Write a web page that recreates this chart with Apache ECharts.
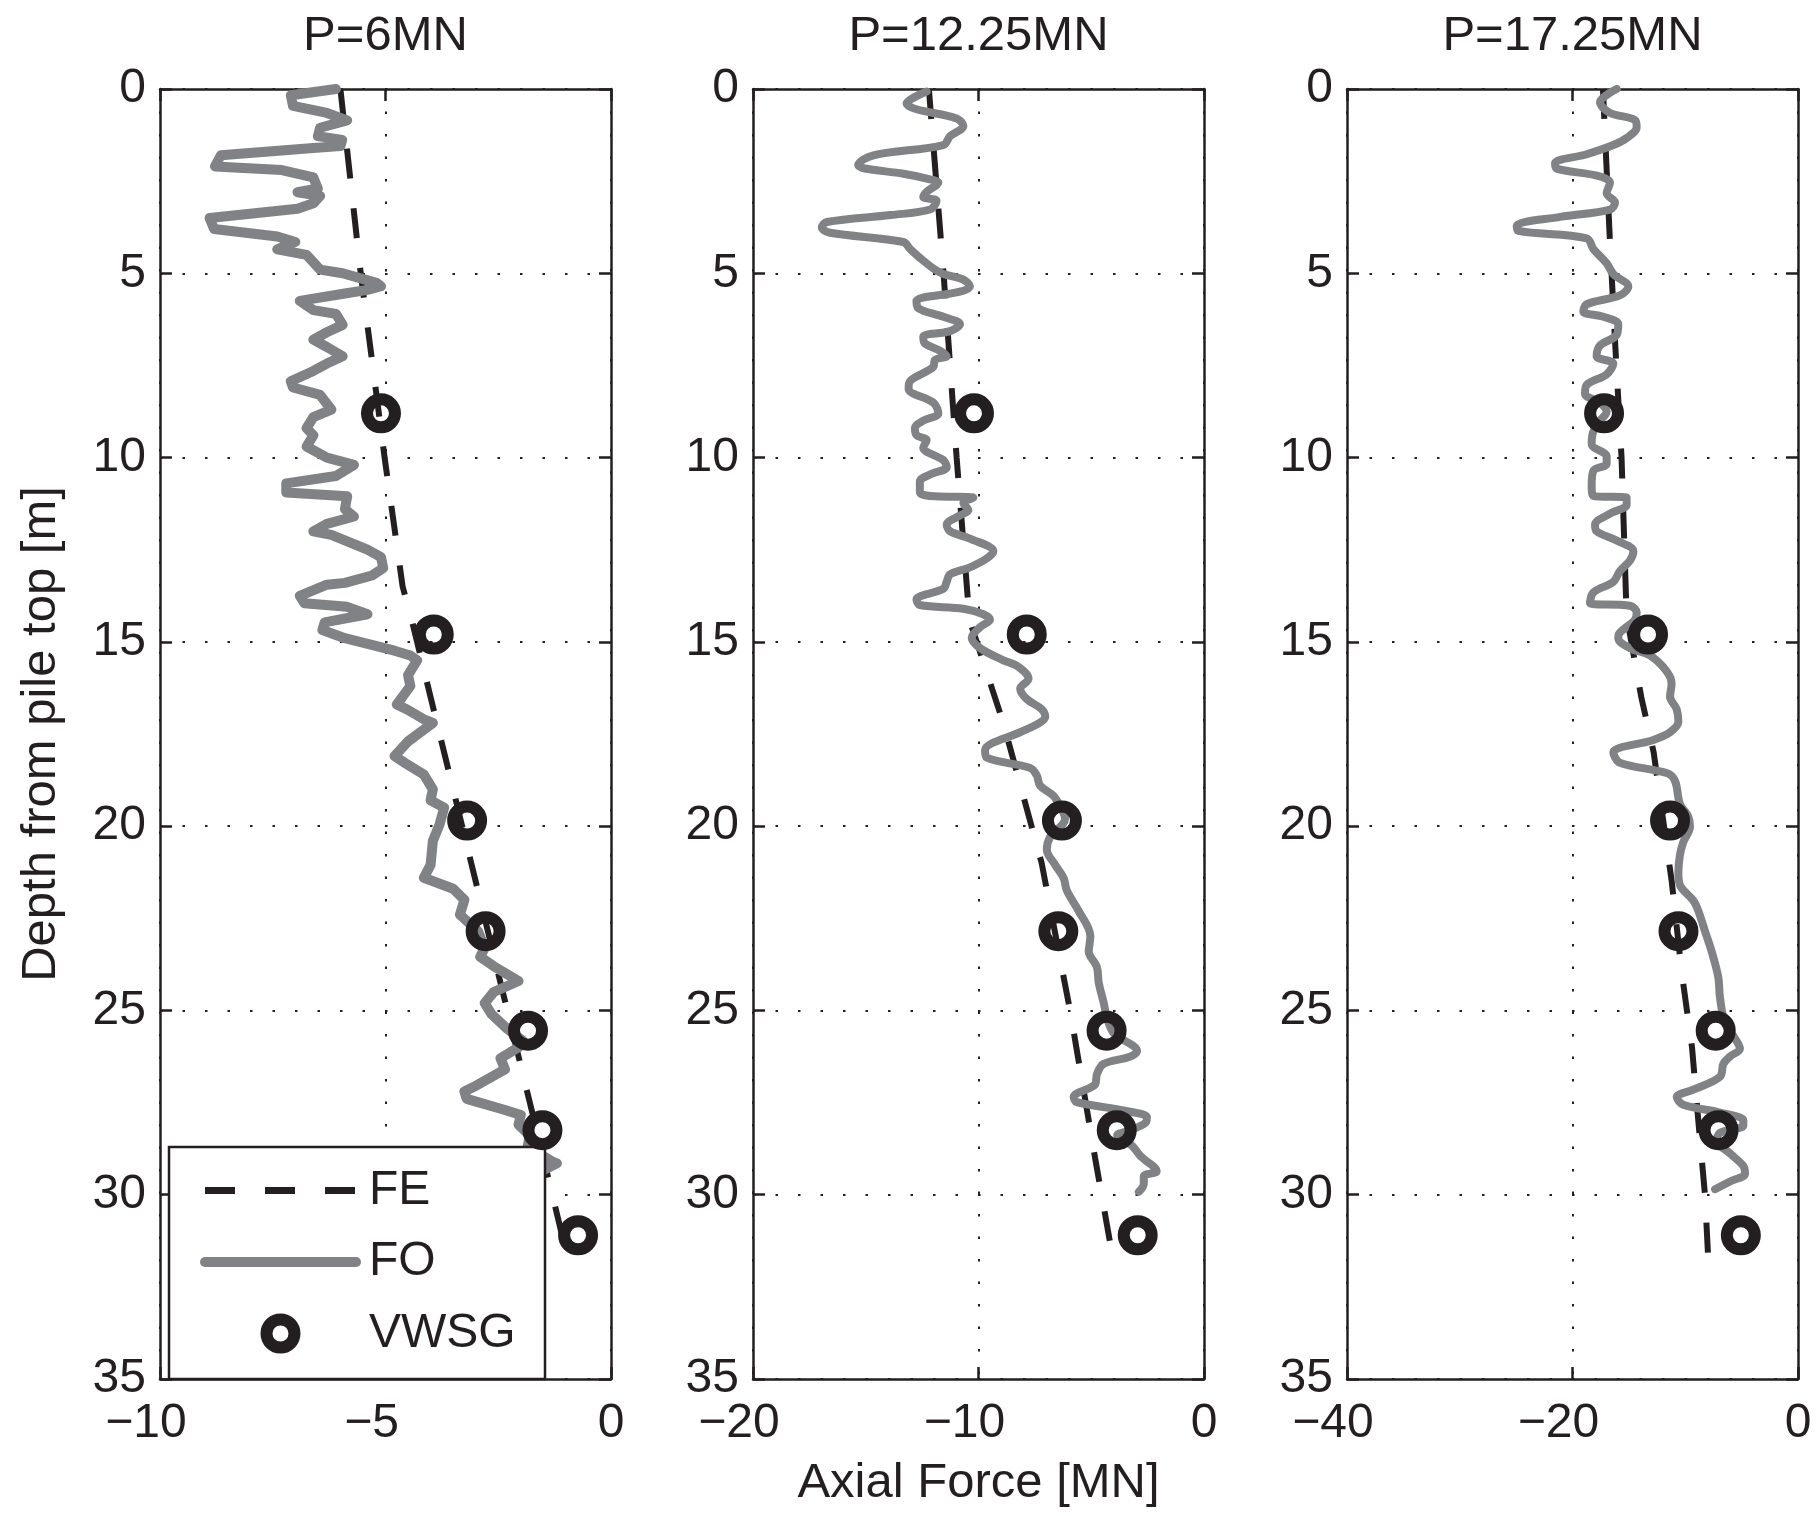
<!DOCTYPE html>
<html><head><meta charset="utf-8">
<script src="https://cdn.jsdelivr.net/npm/echarts@6/dist/echarts.min.js"></script>
<style>html,body{margin:0;padding:0;background:#fff}#c{width:1817px;height:1516px}</style>
</head><body><div id="c"></div>
<script>
// ---------- data ----------
const panelTitles = ['P=6MN', 'P=12.25MN', 'P=17.25MN'];
const xMin = [-10, -20, -40];
const xMax = [0, 0, 0];
const xStep = [5, 10, 20];
const depthMin = 0, depthMax = 35, depthStep = 5;

// VWSG gauges
const vwsgDepth = [8.8, 14.8, 19.85, 22.85, 25.55, 28.25, 31.1];
const vwsgP6 = [-5.1, -3.93, -3.19, -2.78, -1.84, -1.52, -0.73];
const vwsgP12 = [-10.2, -7.86, -6.3, -6.46, -4.32, -3.87, -2.94];
const vwsgP17 = [-17.2, -13.3, -11.35, -10.6, -7.3, -7.05, -5.07];

// FE (finite element)
const feP6Depth = [0, 5, 10, 13.5, 14.5, 20, 25, 30, 31.8];
const feP6Force = [-6.0, -5.55, -5.02, -4.62, -4.4, -3.3, -2.3, -1.3, -0.95];
const feP12Depth = [0, 5, 10, 14.4, 17.2, 21, 25, 29, 31.8];
const feP12Force = [-12.2, -11.55, -10.97, -10.4, -8.9, -7.2, -5.94, -4.83, -4.02];
const feP17Depth = [0, 4, 7, 10, 14.3, 16.5, 18, 21.5, 24, 26, 28, 30, 31.8];
const feP17Force = [-17.3, -16.7, -16.2, -15.65, -15.2, -13.9, -12.8, -11.2, -10.3, -9.4, -8.84, -8.25, -7.95];

// FO (fibre optic)
const foP6Depth = [0,0.17,0.46,0.65,0.85,1.05,1.28,1.38,1.55,1.6,1.8,2.1,2.2,2.4,2.7,2.8,2.9,3.1,3.25,3.5,3.8,4.0,4.15,4.35,4.5,4.9,5.0,5.26,5.35,5.45,5.55,5.75,6.0,6.1,6.4,6.6,6.8,7.0,7.25,7.45,7.65,7.93,8.1,8.3,8.7,8.9,9.2,9.4,9.7,10.0,10.2,10.5,10.7,10.95,11.05,11.4,11.6,11.8,12.0,12.1,12.5,12.7,13.0,13.2,13.4,13.45,13.75,13.95,14.05,14.25,14.47,14.68,14.9,15.24,15.37,15.5,15.9,16.2,16.7,16.85,17.1,17.2,17.7,18.1,18.3,18.6,19.0,19.3,19.5,19.95,20.4,21.05,21.4,21.7,22.0,22.4,22.85,23.3,23.55,23.8,24.2,24.5,24.8,25.1,25.5,25.83,26.0,26.3,26.6,27.08,27.2,27.4,27.7,27.84,28.1,28.4,28.7,29.1,29.15,29.4];
const foP6Force = [-6.1,-7.1,-7.05,-6.3,-5.85,-6.45,-6.5,-5.96,-6.0,-6.6,-8.65,-8.78,-7.3,-6.6,-6.5,-6.95,-6.45,-6.6,-6.95,-8.9,-8.8,-7.4,-7.0,-7.4,-6.75,-6.45,-5.95,-5.2,-5.1,-5.4,-5.9,-6.9,-6.6,-6.1,-5.95,-6.3,-6.6,-6.3,-5.95,-6.3,-6.6,-7.1,-7.05,-6.45,-6.2,-6.6,-6.75,-6.6,-6.75,-6.3,-5.7,-6.1,-7.2,-7.2,-5.85,-5.9,-5.7,-6.3,-6.6,-6.2,-5.4,-5.1,-5.05,-5.3,-5.9,-6.3,-6.9,-6.8,-5.85,-5.4,-6.35,-6.4,-5.9,-4.8,-4.45,-4.3,-4.5,-4.45,-4.75,-4.5,-4.15,-3.95,-4.5,-4.8,-4.55,-4.15,-3.95,-4.0,-3.7,-3.8,-3.95,-4.0,-4.15,-3.5,-3.25,-3.35,-2.95,-2.8,-2.9,-2.6,-2.05,-2.6,-2.8,-2.65,-2.3,-1.95,-2.05,-2.45,-2.35,-3.05,-3.25,-3.2,-2.35,-2.0,-2.05,-1.8,-1.85,-1.3,-1.2,-1.6];
const foP12Depth = [0.07,0.4,0.55,0.8,1.0,1.28,1.52,1.8,2.06,2.15,2.3,2.45,2.54,2.79,2.93,3.03,3.27,3.42,3.61,3.76,3.9,4.15,4.34,4.58,4.87,5.02,5.17,5.36,5.5,5.75,5.94,6.18,6.38,6.57,6.72,6.91,7.1,7.25,7.35,7.54,7.93,8.13,8.51,8.8,9.0,9.19,9.39,9.53,9.73,10.07,10.26,10.46,10.65,10.94,11.04,11.09,11.23,11.43,11.57,11.82,12.0,12.2,12.54,12.74,12.98,13.17,13.37,13.56,13.85,14.0,14.1,14.25,14.4,14.6,14.89,15.17,15.5,15.65,16.0,16.27,16.55,16.83,17.04,17.24,17.45,17.94,18.14,18.42,18.63,18.9,19.18,19.46,19.8,20.29,20.64,21.05,21.4,21.75,22.3,22.99,23.4,23.82,24.24,24.79,25.2,25.62,26.1,26.25,26.45,26.73,27.0,27.35,27.49,27.7,27.9,28.05,28.25,28.39,28.67,28.95,29.36,29.5,29.7,29.92];
const foP12Force = [-12.3,-13.19,-12.75,-10.97,-10.67,-11.26,-11.56,-14.66,-15.33,-15.1,-13.33,-12.15,-11.78,-12.3,-12.45,-11.86,-12.15,-13.9,-16.73,-16.95,-16.58,-13.33,-13.04,-12.6,-12.0,-11.56,-10.67,-10.38,-10.82,-12.75,-12.68,-11.56,-10.82,-11.26,-12.45,-12.37,-11.71,-11.41,-11.93,-12.0,-13.04,-13.1,-12.0,-11.78,-12.45,-12.82,-12.75,-12.3,-12.45,-11.56,-11.41,-12.15,-12.6,-12.6,-12.15,-10.23,-10.67,-10.45,-10.82,-11.41,-11.26,-10.38,-9.34,-9.64,-10.38,-11.26,-11.41,-11.56,-12.75,-12.6,-10.67,-9.79,-9.49,-9.93,-10.3,-9.93,-8.9,-8.3,-7.78,-8.15,-7.86,-7.19,-7.04,-7.41,-8.15,-9.71,-9.64,-7.71,-7.41,-7.27,-6.67,-6.38,-6.16,-6.82,-6.97,-6.6,-6.23,-6.08,-5.56,-5.04,-5.11,-4.75,-4.67,-4.45,-4.3,-4.0,-2.97,-3.26,-4.45,-4.75,-4.82,-5.78,-5.64,-3.71,-2.53,-2.6,-3.26,-3.85,-3.19,-2.82,-2.1,-2.67,-2.67,-2.89];
const foP17Depth = [0,0.36,0.65,0.84,1.04,1.33,1.52,1.77,2.01,2.16,2.35,2.54,2.83,3.08,3.27,3.47,3.71,3.85,4.05,4.34,4.73,5.02,5.36,5.6,5.84,6.04,6.18,6.38,6.67,6.96,7.25,7.45,7.74,8.03,8.27,8.51,8.76,9.0,9.29,9.63,9.97,10.17,10.36,10.75,11.04,11.09,11.28,11.52,11.82,12.0,12.25,12.54,12.79,13.08,13.37,13.66,13.95,14.02,14.2,14.4,14.75,14.9,15.17,15.37,15.8,16.14,16.48,16.83,17.17,17.45,17.66,18.0,18.28,18.56,18.77,19.4,19.74,20.01,20.43,20.78,21.26,21.6,22.02,22.3,22.85,23.4,24.1,24.65,25.35,25.76,26.04,26.25,26.45,26.8,27.15,27.35,27.56,27.77,27.98,28.12,28.32,28.53,28.88,29.22,29.43,29.64,29.85];
const foP17Force = [-16.08,-17.56,-16.67,-14.46,-14.31,-15.2,-16.38,-18.74,-21.55,-21.4,-17.86,-16.67,-16.97,-16.23,-16.67,-21.1,-24.95,-24.8,-18.74,-18.15,-16.97,-16.38,-15.05,-15.8,-18.74,-19.04,-17.27,-15.94,-16.08,-17.56,-17.86,-16.38,-16.97,-18.74,-18.89,-17.56,-16.97,-17.56,-18.15,-18.3,-16.97,-16.97,-18.15,-18.3,-18.15,-15.2,-15.2,-16.67,-18.0,-17.86,-16.08,-14.6,-14.9,-15.8,-16.38,-18.15,-18.45,-14.9,-14.31,-14.46,-15.8,-15.94,-14.9,-13.13,-11.65,-11.21,-11.35,-10.76,-10.61,-11.35,-12.83,-16.38,-15.8,-11.65,-10.91,-10.47,-9.73,-9.58,-10.17,-10.47,-10.61,-10.47,-9.28,-8.84,-8.25,-7.66,-7.07,-6.92,-6.48,-5.59,-5.15,-6.03,-6.62,-6.92,-9.28,-10.76,-10.17,-6.92,-4.85,-4.85,-6.92,-7.22,-6.03,-4.85,-4.7,-6.03,-7.36];

// ---------- build ----------
const FONT = '"Liberation Sans", Arial, Helvetica, sans-serif';
const INK = '#231f20';
const GREY = '#808285';
const gridLeft = [160, 753, 1347];
const gridW = 451, gridTop = 89, gridH = 1290;

const pairs = (xs, ys) => xs.map((x, i) => [x, ys[i]]);
const feData = [pairs(feP6Force, feP6Depth), pairs(feP12Force, feP12Depth), pairs(feP17Force, feP17Depth)];
const foData = [pairs(foP6Force, foP6Depth), pairs(foP12Force, foP12Depth), pairs(foP17Force, foP17Depth)];
const vwData = [pairs(vwsgP6, vwsgDepth), pairs(vwsgP12, vwsgDepth), pairs(vwsgP17, vwsgDepth)];
const foWidth = [10, 8, 8];
const foSmooth = [false, 0.35, 0.35];

const axisLine = {show: true, onZero: false, lineStyle: {color: INK, width: 2.5}};
const axisTick = {show: true, inside: true, length: 12, lineStyle: {color: INK, width: 2.5}};
const dotted = {show: true, lineStyle: {color: INK, width: 2, type: [2.5, 20]}};

function xFmt(v) {
  if (v < 0) return '{v|\u2212' + Math.abs(v) + '}{s| }';
  return '{v|' + v + '}';
}

const grid = [], xAxis = [], yAxis = [], title = [], series = [];
for (let i = 0; i < 3; i++) {
  grid.push({left: gridLeft[i], top: gridTop, width: gridW, height: gridH, containLabel: false, outerBoundsMode: 'none'});
  title.push({text: panelTitles[i], left: gridLeft[i] + gridW / 2, textAlign: 'center', top: 12, padding: 0,
    textStyle: {fontFamily: FONT, fontSize: 49, fontWeight: 'normal', color: INK}});
  xAxis.push({type: 'value', gridIndex: i, position: 'bottom', min: xMin[i], max: xMax[i], interval: xStep[i],
    axisLine, axisTick,
    axisLabel: {show: true, margin: 21, formatter: xFmt, color: INK,
      rich: {v: {fontFamily: FONT, fontSize: 48, color: INK}, s: {fontFamily: FONT, fontSize: 48, width: 28}}},
    splitLine: dotted,
    name: i === 1 ? 'Axial Force [MN]' : '', nameLocation: 'middle', nameGap: 80,
    nameTextStyle: {fontFamily: FONT, fontSize: 49, color: INK}});
  xAxis.push({type: 'value', gridIndex: i, position: 'top', min: xMin[i], max: xMax[i], interval: xStep[i],
    axisLine, axisTick, axisLabel: {show: false}, splitLine: {show: false}});
  yAxis.push({type: 'value', gridIndex: i, position: 'left', inverse: true, min: depthMin, max: depthMax, interval: depthStep,
    axisLine, axisTick,
    axisLabel: {show: true, margin: 14, fontFamily: FONT, fontSize: 48, color: INK},
    splitLine: dotted,
    name: i === 0 ? 'Depth from pile top [m]' : '', nameLocation: 'middle', nameGap: 94,
    nameTextStyle: {fontFamily: FONT, fontSize: 49, color: INK}});
  yAxis.push({type: 'value', gridIndex: i, position: 'right', inverse: true, min: depthMin, max: depthMax, interval: depthStep,
    axisLine, axisTick, axisLabel: {show: false}, splitLine: {show: false}});

  series.push({name: 'FE', type: 'line', xAxisIndex: 2 * i, yAxisIndex: 2 * i, data: feData[i],
    symbol: 'none', z: 2, lineStyle: {color: INK, width: 6, type: [30, 30]}, itemStyle: {color: INK}});
  series.push({name: 'FO', type: 'line', xAxisIndex: 2 * i, yAxisIndex: 2 * i, data: foData[i],
    symbol: 'none', z: 3, smooth: foSmooth[i], lineStyle: {color: GREY, width: foWidth[i], join: 'round', cap: 'round'}, itemStyle: {color: GREY}});
  series.push({name: 'VWSG', type: 'scatter', xAxisIndex: 2 * i, yAxisIndex: 2 * i, data: vwData[i],
    symbol: 'circle', symbolSize: 28, z: 4,
    itemStyle: {color: 'rgba(0,0,0,0)', borderColor: INK, borderWidth: 12, opacity: 1}});
}

const option = {
  animation: false,
  backgroundColor: '#fff',
  title, grid, xAxis, yAxis, series,
  legend: {
    show: true, orient: 'vertical', left: 169, top: 1147, selectedMode: false,
    padding: [19.5, 28, 21.5, 31], itemWidth: 151, itemHeight: 28, itemGap: 23.5,
    backgroundColor: '#fff', borderColor: INK, borderWidth: 2.5, borderRadius: 0,
    textStyle: {fontFamily: FONT, fontSize: 48, color: INK, lineHeight: 28, width: 148, padding: [0, 0, 0, 8]},
    data: [
      {name: 'FE', lineStyle: {color: INK, width: 7, type: [30, 30]}, itemStyle: {color: 'rgba(0,0,0,0)', borderWidth: 0, opacity: 0}},
      {name: 'FO', lineStyle: {color: GREY, width: 10, type: 'solid'}, itemStyle: {color: 'rgba(0,0,0,0)', borderWidth: 0, opacity: 0}},
      {name: 'VWSG', icon: 'circle', itemStyle: {color: 'rgba(0,0,0,0)', borderColor: INK, borderWidth: 12}}
    ]
  }
};

const chart = echarts.init(document.getElementById('c'), null, {renderer: 'canvas'});
chart.setOption(option);
</script>
</body></html>
